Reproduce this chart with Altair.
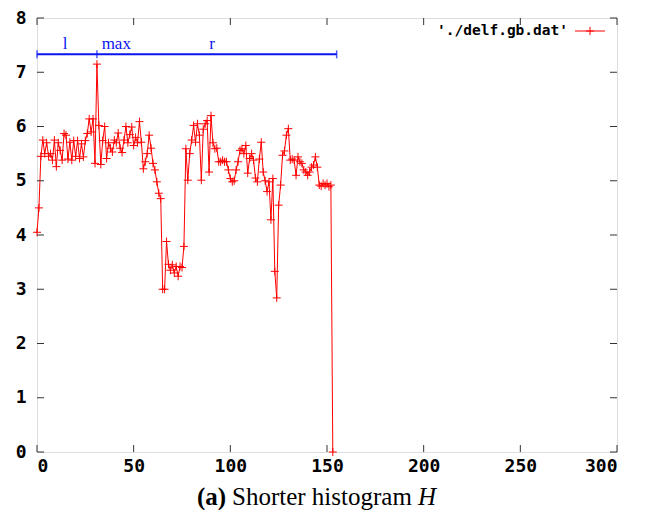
import altair as alt
import pandas as pd

# histogram values (bin index = position in list)
hist_values = [
    4.05, 4.5, 5.45, 5.75, 5.5, 5.7, 5.45, 5.5, 5.38, 5.75,
    5.26, 5.7, 5.56, 5.38, 5.87, 5.84, 5.4, 5.71, 5.38, 5.74,
    5.45, 5.74, 5.41, 5.68, 5.44, 5.74, 5.87, 6.14, 5.9, 6.14,
    5.32, 7.15, 6.02, 5.3, 5.74, 6.0, 5.41, 5.7, 5.6, 5.53,
    5.75, 5.7, 5.88, 5.6, 5.52, 5.75, 6.0, 5.7, 5.85, 5.99,
    5.65, 5.8, 5.7, 6.09, 5.71, 5.22, 5.35, 5.5, 5.84, 5.6,
    5.32, 5.2, 4.98, 4.77, 4.67, 3.0, 3.0, 3.88, 3.46, 3.35,
    3.45, 3.3, 3.42, 3.24, 3.42, 3.4, 3.79, 5.59, 5.01, 5.5,
    5.75, 6.02, 5.71, 6.05, 5.84, 5.01, 5.95, 6.05, 6.11, 5.16,
    6.2, 5.7, 5.59, 5.6, 5.35, 5.35, 5.38, 5.35, 5.35, 5.2,
    5.04, 4.98, 5.0, 5.2, 5.35, 5.56, 5.59, 5.5, 5.65, 5.14,
    5.41, 5.5, 5.38, 5.05, 4.98, 5.4, 5.71, 5.16, 5.0, 4.8,
    4.98, 4.28, 5.04, 3.33, 2.84, 4.55, 4.92, 5.47, 5.55, 5.84,
    5.96, 5.38, 5.4, 5.38, 5.1, 5.44, 5.35, 5.32, 5.2, 5.16,
    5.1, 5.16, 5.25, 5.29, 5.44, 5.25, 4.92, 4.9, 4.95, 4.92,
    4.95, 4.89, 4.92, 0.0,
]
bins = list(range(len(hist_values)))

marker_level = 7.33
marker_start = [0]
marker_end = [155]
marker_caps = [0, 31, 155]
marker_label_text = ["l", "max", "r"]
marker_label_x = [14.5, 41, 90.5]
marker_label_y = [7.42, 7.42, 7.42]

x_ticks = [0, 50, 100, 150, 200, 250, 300]
y_ticks = [0, 1, 2, 3, 4, 5, 6, 7, 8]
legend_label = ["'./delf.gb.dat'"]

W, H = 580, 434
RED = "#ff0000"
BLUE = "#0a14f0"
PLUS = "M-1,0L1,0M0,-1L0,1"
MONO = "DejaVu Sans Mono"

xs = alt.Scale(domain=[0, 300], nice=False, zero=False)
ys = alt.Scale(domain=[0, 8], nice=False, zero=False)

ax_common = dict(ticks=False, domain=False, grid=False, title=None,
                 labelFont=MONO, labelFontWeight="bold", labelColor="black")
x_axis = alt.Axis(values=x_ticks, labelFontSize=18, labelPadding=5, **ax_common)
y_axis = alt.Axis(values=y_ticks, labelFontSize=18, labelPadding=11, **ax_common)


def X(f):
    return alt.X(f, type="quantitative", scale=xs, axis=x_axis)


def Y(f):
    return alt.Y(f, type="quantitative", scale=ys, axis=y_axis)


df = pd.DataFrame({"bin": bins, "h": hist_values})

line = alt.Chart(df).mark_line(color=RED, strokeWidth=1).encode(x=X("bin"), y=Y("h"))
pts = alt.Chart(df).mark_point(shape=PLUS, size=64, color=RED, strokeWidth=1,
                               filled=False, opacity=1).encode(x=X("bin"), y=Y("h"))

rng = pd.DataFrame({"x": marker_start, "x2": marker_end, "y": [marker_level]})
blue_rule = alt.Chart(rng).mark_rule(color=BLUE, strokeWidth=2).encode(
    x=X("x"), x2="x2:Q", y=Y("y"))
caps = pd.DataFrame({"x": marker_caps, "y": [marker_level] * len(marker_caps)})
blue_caps = alt.Chart(caps).mark_tick(color=BLUE, orient="vertical", size=8,
                                      thickness=1.5).encode(x=X("x"), y=Y("y"))
lab = pd.DataFrame({"x": marker_label_x, "y": marker_label_y, "t": marker_label_text})
blue_labels = alt.Chart(lab).mark_text(color=BLUE, font="Liberation Serif", fontSize=17,
                                       baseline="alphabetic", align="center").encode(
    x=X("x"), y=Y("y"), text="t:N")

# inward gnuplot-style ticks on all four sides
tx = pd.DataFrame({"x": x_ticks})
ty = pd.DataFrame({"y": y_ticks})
TICK = "#333333"
bot_ticks = alt.Chart(tx).mark_rule(color=TICK, strokeWidth=1).encode(
    x=X("x"), y=alt.value(H), y2=alt.value(H - 7))
top_ticks = alt.Chart(tx).mark_rule(color=TICK, strokeWidth=1).encode(
    x=X("x"), y=alt.value(0), y2=alt.value(7))
left_ticks = alt.Chart(ty).mark_rule(color=TICK, strokeWidth=1).encode(
    y=Y("y"), x=alt.value(0), x2=alt.value(7))
right_ticks = alt.Chart(ty).mark_rule(color=TICK, strokeWidth=1).encode(
    y=Y("y"), x=alt.value(W), x2=alt.value(W - 7))

# key (top right)
key_df = pd.DataFrame({"t": legend_label})
key_text = alt.Chart(key_df).mark_text(font=MONO, fontWeight="bold", fontSize=14.5,
                                       align="right", baseline="middle", color="black").encode(
    text="t:N", x=alt.value(531), y=alt.value(13))
key_line = alt.Chart(key_df).mark_rule(color=RED, strokeWidth=1).encode(
    x=alt.value(538), x2=alt.value(568), y=alt.value(13))
key_pt = alt.Chart(key_df).mark_point(shape=PLUS, size=64, color=RED, strokeWidth=1,
                                      filled=False, opacity=1).encode(
    x=alt.value(553), y=alt.value(13))

# caption
cap_df = pd.DataFrame({"a": ["(a)"], "b": ["Shorter histogram"], "c": ["H"]})
CY = 479
cap_a = alt.Chart(cap_df).mark_text(font="Liberation Serif", fontWeight="bold", fontSize=25,
                                    align="left", baseline="middle", color="black").encode(
    text="a:N", x=alt.value(160), y=alt.value(CY))
cap_b = alt.Chart(cap_df).mark_text(font="Liberation Serif", fontSize=25,
                                    align="left", baseline="middle", color="black").encode(
    text="b:N", x=alt.value(195), y=alt.value(CY))
cap_c = alt.Chart(cap_df).mark_text(font="Liberation Serif", fontStyle="italic", fontSize=25,
                                    align="left", baseline="middle", color="black").encode(
    text="c:N", x=alt.value(381), y=alt.value(CY))

chart = alt.layer(
    line, pts, blue_rule, blue_caps, blue_labels,
    bot_ticks, top_ticks, left_ticks, right_ticks,
    key_text, key_line, key_pt, cap_a, cap_b, cap_c,
).properties(
    width=W, height=H,
    autosize=alt.AutoSizeParams(type="none"),
    padding={"left": 29, "top": 10, "right": 21, "bottom": 58},
).configure_view(
    stroke="#333333", strokeWidth=1,
).configure(background="white")

chart.save("out.html", embed_options={"renderer": "svg", "actions": False})
